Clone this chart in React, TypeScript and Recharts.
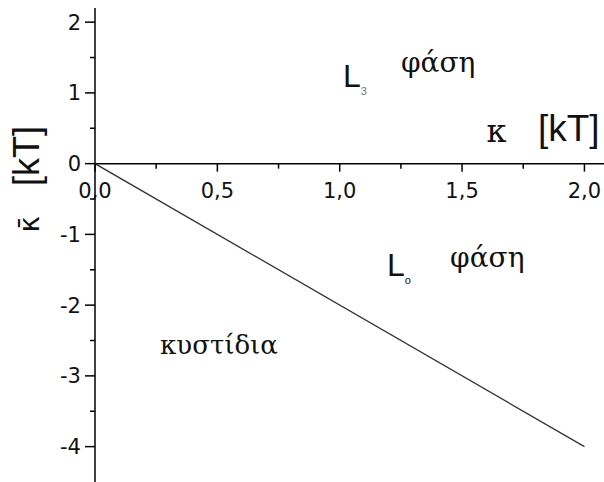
import React from 'react';
import { LineChart, Line, XAxis, YAxis, ReferenceLine, ReferenceDot } from 'recharts';

// boundary line between the vesicle region and the L phases
const lineK = [0, 2];
const lineKBar = [0, -4];

// axis ticks (half steps on y and quarter steps on x are unlabelled minor ticks)
const yTicks = [-4, -3.5, -3, -2.5, -2, -1.5, -1, -0.5, 0, 0.5, 1, 1.5, 2];
const yMajor = [-4, -3, -2, -1, 0, 1, 2];
const xTicks = [0, 0.25, 0.5, 0.75, 1, 1.25, 1.5, 1.75, 2];
const xMajor = [0, 0.5, 1, 1.5, 2];

const lineData = lineK.map((k, i) => ({ k, kbar: lineKBar[i] }));

const SANS = '"DejaVu Sans", sans-serif';
const ARIAL = '"Liberation Sans", Arial, sans-serif';
const SERIF = '"DejaVu Serif", serif';
const INK = '#111';

const fmt = (v: number) => v.toFixed(1).replace('.', ',');

const yTickShape = (value: number) => (p: any) => {
  const major = yMajor.includes(value);
  return (
    <g>
      <line x1={p.cx - (major ? 10 : 5)} x2={p.cx} y1={p.cy} y2={p.cy} stroke="#000" strokeWidth={1.5} />
      {major && (
        <text x={p.cx - 14} y={p.cy} dy="0.36em" textAnchor="end" fontFamily={SANS} fontSize={21} fill={INK}>
          {String(value)}
        </text>
      )}
    </g>
  );
};

const xTickShape = (value: number) => (p: any) => {
  const major = xMajor.includes(value);
  return (
    <g>
      <line x1={p.cx} x2={p.cx} y1={p.cy} y2={p.cy + (major ? 8 : 5)} stroke="#000" strokeWidth={1.5} />
      {major && (
        <text x={p.cx} y={p.cy + 34} textAnchor="middle" fontFamily={SANS} fontSize={21} fill={INK}>
          {fmt(value)}
        </text>
      )}
    </g>
  );
};

// free text placed at data coordinates
const note = (content: React.ReactNode, family: string, size: number) => (p: any) => (
  <text x={p.cx} y={p.cy} fontFamily={family} fontSize={size} fill={INK}>
    {content}
  </text>
);

// rotated y axis title, anchored left of the axis
const yTitle = (p: any) => {
  const cx = p.cx - 62;
  const cy = p.cy;
  return (
    <text x={cx} y={cy} transform={`rotate(-90 ${cx} ${cy})`} textAnchor="middle" dy="0.35em" fill={INK}>
      <tspan fontFamily={SANS} fontSize={28}>κ̄</tspan>
      <tspan fontFamily={ARIAL} fontSize={36} dx={30}>[kT]</tspan>
    </text>
  );
};

export default function App() {
  return (
    <div style={{ position: 'absolute', left: 0, top: 0, background: '#fff' }}>
      <LineChart width={604} height={482} data={lineData} margin={{ top: 8, right: 0, bottom: 0, left: 95 }}>
        <XAxis type="number" dataKey="k" domain={[0, 2.08]} hide height={0} allowDataOverflow />
        <YAxis type="number" domain={[-4.5, 2.2]} hide width={0} allowDataOverflow />
        <ReferenceLine x={0} stroke="#000" strokeWidth={1.5} />
        <ReferenceLine y={0} stroke="#000" strokeWidth={1.5} />
        {yTicks.map((t) => (
          <ReferenceDot key={`y${t}`} x={0} y={t} ifOverflow="visible" shape={yTickShape(t)} />
        ))}
        {xTicks.map((t) => (
          <ReferenceDot key={`x${t}`} x={t} y={0} ifOverflow="visible" shape={xTickShape(t)} />
        ))}
        <ReferenceDot x={0} y={-0.22} ifOverflow="visible" shape={yTitle} />
        <Line
          type="linear"
          dataKey="kbar"
          stroke="#333"
          strokeWidth={1.3}
          dot={false}
          isAnimationActive={false}
        />
        <ReferenceDot
          x={1.013}
          y={1.08}
          ifOverflow="visible"
          shape={note(
            <>
              L<tspan fontSize={11} dy={8} fill="#777">3</tspan>
            </>,
            ARIAL,
            32
          )}
        />
        <ReferenceDot x={1.25} y={1.3} ifOverflow="visible" shape={note('φάση', SERIF, 28)} />
        <ReferenceDot x={1.6} y={0.31} ifOverflow="visible" shape={note('κ', SERIF, 32)} />
        <ReferenceDot x={1.81} y={0.32} ifOverflow="visible" shape={note('[kT]', ARIAL, 37)} />
        <ReferenceDot
          x={1.193}
          y={-1.594}
          ifOverflow="visible"
          shape={note(
            <>
              L<tspan fontSize={11} dy={8}>o</tspan>
            </>,
            ARIAL,
            32
          )}
        />
        <ReferenceDot x={1.451} y={-1.467} ifOverflow="visible" shape={note('φάση', SERIF, 28)} />
        <ReferenceDot x={0.266} y={-2.69} ifOverflow="visible" shape={note('κυστίδια', SERIF, 26)} />
      </LineChart>
    </div>
  );
}
